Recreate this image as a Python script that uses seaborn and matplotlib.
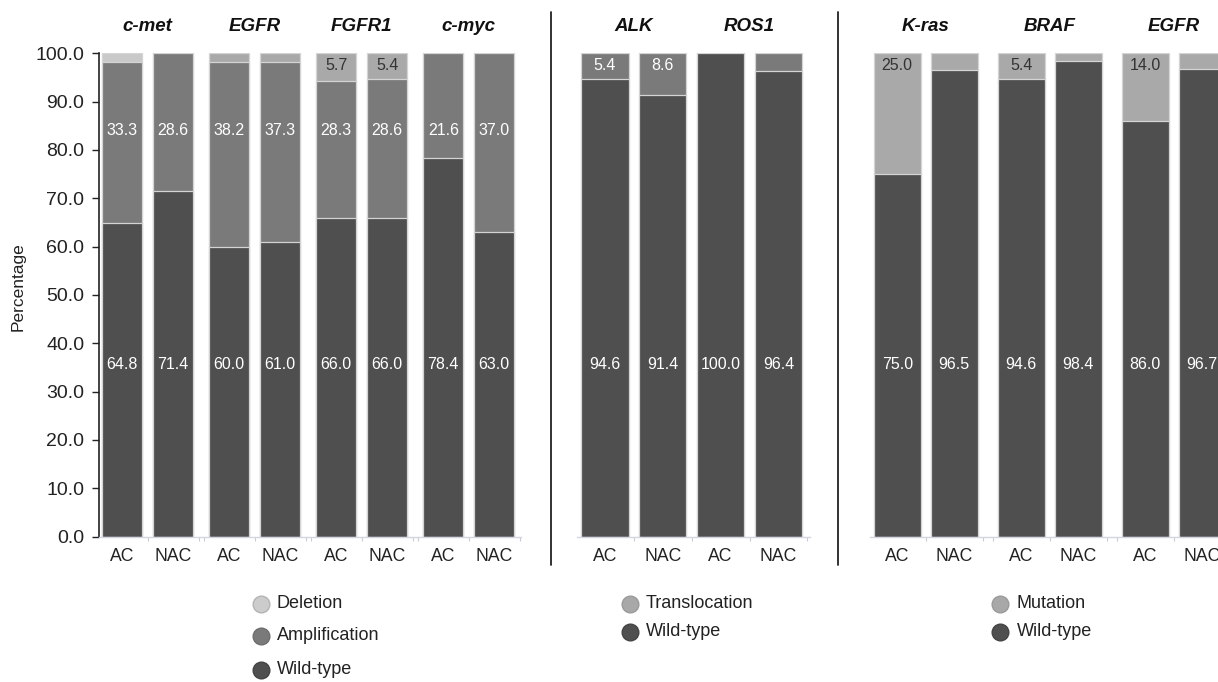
import numpy as np
import pandas as pd
import matplotlib
matplotlib.use("Agg")
import matplotlib.pyplot as plt
import seaborn as sns
from matplotlib.lines import Line2D
from matplotlib.ticker import FixedLocator, FormatStrFormatter

# ---------------- data ----------------
groups = ["AC", "NAC"]

cnv_genes = ["c-met", "EGFR", "FGFR1", "c-myc"]
cnv_wild = [64.8, 71.4, 60.0, 61.0, 66.0, 66.0, 78.4, 63.0]
cnv_amp = [33.3, 28.6, 38.2, 37.3, 28.3, 28.6, 21.6, 37.0]
cnv_del = [1.9, 0.0, 1.8, 1.7, 5.7, 5.4, 0.0, 0.0]

fusion_genes = ["ALK", "ROS1"]
fusion_wild = [94.6, 91.4, 100.0, 96.4]
fusion_trans = [5.4, 8.6, 0.0, 3.6]

mut_genes = ["K-ras", "BRAF", "EGFR"]
mut_wild = [75.0, 96.5, 94.6, 98.4, 86.0, 96.7]
mut_mut = [25.0, 3.5, 5.4, 1.6, 14.0, 3.3]

cnv_legend = ["Deletion", "Amplification", "Wild-type"]
fusion_legend = ["Translocation", "Wild-type"]
mut_legend = ["Mutation", "Wild-type"]

y_ticks = [0, 10, 20, 30, 40, 50, 60, 70, 80, 90, 100]

# ---------------- style ----------------
sns.set_theme(style="ticks")
plt.rcParams["font.family"] = ["Liberation Sans", "DejaVu Sans"]

WILD = "#4f4f4f"
AMP = "#7a7a7a"
LIGHT = "#a9a9a9"
PALE = "#c9c9c9"
TXT = "#222222"

W, H = 1218, 682
fig = plt.figure(figsize=(W / 100, H / 100), dpi=100)

Y_TOP, Y_BOT = 53.3, 536.5          # pixel rows of 100 % and 0 %
PX_PER_UNIT = (Y_BOT - Y_TOP) / 100.0


def add_axes_px(x0, x1):
    return fig.add_axes([x0 / W, 1 - Y_BOT / H, (x1 - x0) / W, (Y_BOT - Y_TOP) / H])


def draw_panel(ax, genes, layers, layer_colors, label_y, label_colors,
               gap, width, xlim):
    n = len(layers[0])
    pos = np.arange(n) + gap * np.repeat(np.arange(len(genes)), 2)
    keys = [f"{g} {s}" for g in genes for s in groups]
    cum = np.cumsum(np.vstack(layers), axis=0)
    # stacked bars: draw cumulative totals from the top layer down
    for k in range(len(layers) - 1, -1, -1):
        df = pd.DataFrame({"pos": pos, "value": cum[k], "bar": keys})
        sns.barplot(data=df, x="pos", y="value", hue="bar",
                    palette=dict(zip(keys, layer_colors[k])),
                    native_scale=True, width=width, dodge=False,
                    legend=False, errorbar=None,
                    edgecolor="#d4d4d4", linewidth=0.9, ax=ax)
    # value labels
    for j in range(n):
        for k in range(len(layers)):
            v = layers[k][j]
            if v >= 5:
                ax.text(pos[j], label_y[k], f"{v:.1f}", ha="center",
                        va="center", fontsize=11.5, color=label_colors[k])
    # gene titles
    for gi, g in enumerate(genes):
        xc = (pos[2 * gi] + pos[2 * gi + 1]) / 2
        ax.text(xc, 100 + (Y_TOP - 27) / PX_PER_UNIT, g, ha="center",
                va="center", fontsize=13.5, fontweight="bold",
                fontstyle="italic", color="#111111", clip_on=False)

    ax.set_xlim(*xlim)
    ax.set_ylim(0, 100)
    ax.set_xlabel("")
    ax.set_ylabel("")
    ax.set_xticks(pos)
    ax.set_xticklabels(groups * len(genes))
    edges = np.unique(np.round(np.concatenate([pos - 0.5, pos + 0.5]), 4))
    ax.xaxis.set_minor_locator(FixedLocator(edges))
    ax.tick_params(axis="x", which="major", length=0, pad=8,
                   labelsize=12.7, labelcolor=TXT)
    ax.tick_params(axis="x", which="minor", length=3, width=0.8,
                   color="#c9ccd8", bottom=True)
    for s in ("top", "right"):
        ax.spines[s].set_visible(False)
    ax.spines["bottom"].set_color("#d3d6e0")
    ax.spines["bottom"].set_linewidth(1.0)
    return pos


# ---- copy-number panel ----
ax1 = add_axes_px(99, 521)
draw_panel(ax1, cnv_genes, [cnv_wild, cnv_amp, cnv_del],
           [[WILD] * 8, [AMP] * 8,
            [PALE if g == "c-met" else LIGHT for g in cnv_genes for _ in groups]],
           label_y=[35.5, 84.0, 97.5],
           label_colors=["white", "white", "#333333"],
           gap=0.1, width=0.78,
           xlim=((99 - 122) / 51, (521 - 122) / 51))
ax1.set_yticks(y_ticks)
ax1.yaxis.set_major_formatter(FormatStrFormatter("%.1f"))
ax1.tick_params(axis="y", length=4.7, width=1.0, pad=6, labelsize=14,
                color=TXT, labelcolor=TXT)
ax1.spines["left"].set_color(TXT)
ax1.spines["left"].set_linewidth(1.2)

# ---- translocation panel ----
ax2 = add_axes_px(577, 810)
draw_panel(ax2, fusion_genes, [fusion_wild, fusion_trans],
           [[WILD] * 4, [AMP] * 4],
           label_y=[35.5, 97.5], label_colors=["white", "white"],
           gap=0.0, width=0.82,
           xlim=((577 - 605) / 57.8, (810 - 605) / 57.8))

# ---- mutation panel ----
ax3 = add_axes_px(870, 1240)
draw_panel(ax3, mut_genes, [mut_wild, mut_mut],
           [[WILD] * 6, [LIGHT] * 6],
           label_y=[35.5, 97.5], label_colors=["white", "#333333"],
           gap=10 / 57, width=0.82,
           xlim=((870 - 897.2) / 57, (1240 - 897.2) / 57))

for ax in (ax2, ax3):
    ax.set_yticks([])
    ax.spines["left"].set_visible(False)

# y-axis title
fig.text(18 / W, 1 - 287 / H, "Percentage", rotation=90, ha="center",
         va="center", fontsize=12.5, color=TXT)

# panel separators
for xs in (551, 838):
    fig.add_artist(Line2D([xs / W, xs / W], [1 - 12 / H, 1 - 565 / H],
                          transform=fig.transFigure, color=TXT, lw=1.3))


# legends
def legend(x_dot, x_txt, rows, labels, faces, edges):
    for y, lab, fc, ec in zip(rows, labels, faces, edges):
        fig.add_artist(Line2D([x_dot / W], [1 - y / H], marker="o",
                              markersize=12, markerfacecolor=fc,
                              markeredgecolor=ec, markeredgewidth=1.0,
                              linestyle="", transform=fig.transFigure))
        fig.text(x_txt / W, 1 - y / H, lab, ha="left", va="center",
                 fontsize=13, color=TXT)


legend(261, 277, [604, 636, 670], cnv_legend,
       ["#cccccc", AMP, WILD], ["#b4b4b4", "#6e6e6e", "#444444"])
legend(630, 646, [604, 632], fusion_legend,
       ["#a8a8a8", WILD], ["#9a9a9a", "#444444"])
legend(1000, 1017, [604, 632], mut_legend,
       ["#a8a8a8", WILD], ["#9a9a9a", "#444444"])

fig.savefig("out.png", dpi=100, facecolor="white")
